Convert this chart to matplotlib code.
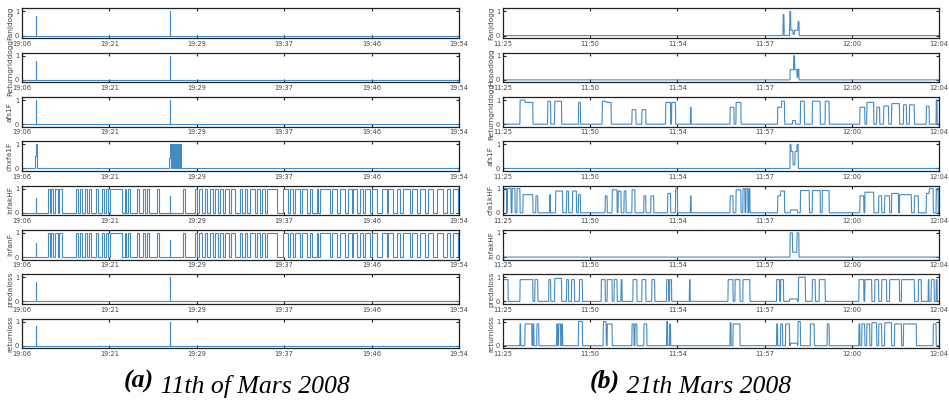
import matplotlib
matplotlib.use("Agg")
import matplotlib.pyplot as plt
import numpy as np

# ---------------- data ----------------
left_ticklabels = ['19:06', '19:21', '19:29', '19:37', '19:46', '19:54']
right_ticklabels = ['11:25', '11:50', '11:54', '11:57', '12:00', '12:04']
left_names = ['Fanjdogg', 'Returngriddogg', 'afs1F', 'chxfa1F',
              'infakHF', 'infanF', 'predaloss', 'returnloss']
right_names = ['Fanjdogg', 'Hopadogg', 'Returngriddogg', 'afs1F',
               'cfa1kHF', 'infakHF', 'predaloss', 'returnloss']
left_len = 437
right_len = 440

# pulses: (start sample, end sample, level)
L_fanj = [(13.5, 14.0, 0.8), (147.8, 148.4, 1.0)]
L_retgrid = [(13.5, 14.0, 0.8), (147.8, 148.4, 1.0)]
L_afs = [(13.5, 14.0, 1.0), (147.8, 148.4, 1.0)]
L_chxfa = [(12.5, 13.5, 0.5), (13.5, 15.0, 1.0),
           (146.5, 148.0, 0.45), (148.0, 148.6, 1.0), (149.2, 149.8, 1.0),
           (150.3, 150.9, 1.0), (151.4, 152.0, 1.0), (152.5, 153.1, 1.0),
           (153.6, 154.2, 1.0), (154.7, 155.3, 1.0), (155.8, 156.4, 1.0),
           (156.9, 157.5, 1.0), (158.0, 158.6, 1.0)]
L_infak = [(13.5, 14.1, 0.6), (26, 28, 1), (29, 31, 1), (33, 35.5, 1), (36.5, 40, 1),
           (54, 56, 1), (58, 60, 1), (63, 65, 1), (67, 69, 1), (74, 76, 1),
           (80, 82, 1), (84, 85.5, 1), (88, 100, 1), (103, 104, 1), (106, 108, 1),
           (115, 116.5, 1), (121, 123, 1), (125, 126.5, 1), (135, 136.5, 1),
           (147.8, 148.4, 0.7), (161, 163, 1), (173, 175, 1), (177, 180, 1),
           (183, 185, 1), (188, 191, 1), (193, 196, 1), (198, 201, 1),
           (203, 207, 1), (209, 213, 1), (218, 220, 1), (223, 225, 1),
           (228, 233, 1), (235, 238, 1), (240, 243, 1), (245, 255, 1),
           (261, 266, 1), (268, 271, 1), (273, 278, 1), (280, 285, 1),
           (288, 290, 1), (295, 296, 1), (298, 308, 1), (310, 315, 1),
           (318, 323, 1), (326, 330, 1), (331, 335, 1), (338, 341, 1),
           (343, 348, 1), (350, 355, 1), (360, 365, 1), (366, 371, 1),
           (375, 378, 1), (381, 388, 1), (390, 395, 1), (398, 403, 1),
           (406, 411, 1), (415, 421, 1), (425, 428, 1), (431, 436, 1)]
L_infan = list(L_infak)
L_preda = [(13.5, 14.0, 0.8), (147.8, 148.4, 1.0)]
L_retloss = [(13.5, 14.0, 0.8), (147.8, 148.4, 1.0)]

R_fanj = [(282.5, 283.5, 0.87), (289.2, 290.2, 1.0), (290.2, 292.5, 0.22),
          (292.5, 294.0, 0.05), (294.0, 297.5, 0.22), (297.5, 298.7, 0.58)]
R_hopa = [(289.5, 293.2, 0.42), (293.2, 294.2, 1.0), (294.2, 296.5, 0.42),
          (296.5, 297.3, 0.1), (297.3, 298.5, 0.45)]
R_retgrid = [(17, 22, 1.0), (22, 30, 0.9), (45, 48, 0.95), (52, 59, 0.95),
             (76, 78, 0.9), (100, 104, 0.95), (104, 109, 0.9), (130, 134, 0.6),
             (140, 144, 0.6), (164, 169, 0.9), (170, 174, 0.9), (189, 189.7, 0.7),
             (229, 233, 0.7), (235, 240, 0.9), (277, 281, 0.7), (281, 284, 0.95),
             (292, 295, 0.15), (300, 304, 0.95), (312, 320, 0.95), (325, 329, 0.95),
             (360, 365, 0.7), (367, 374, 0.9), (377, 380, 0.7), (384, 389, 0.75),
             (392, 400, 0.85), (404, 407, 0.8), (410, 415, 0.8), (427, 430, 0.75),
             (437, 438, 1.0)]
R_afs = [(289.5, 290.5, 1.0), (290.5, 292.5, 0.7), (292.5, 294.5, 0.15),
         (294.5, 296.5, 0.7), (296.5, 297.8, 1.0)]
R_cfa = [(0.5, 3.5, 1.0), (4.2, 8, 1.0), (9, 12, 1.0), (14, 17, 1.0), (20, 30, 0.75),
         (33, 35, 0.7), (47, 47.7, 0.75), (53, 60, 0.9), (64, 66, 0.9), (70, 74, 0.9),
         (76, 78, 0.75), (103, 105, 0.7), (110, 115, 0.95), (116, 119, 0.9),
         (122, 124, 0.9), (130, 133, 0.95), (142, 144, 0.7), (149, 152, 0.7),
         (166, 169, 0.8), (174, 176, 1.0), (189, 189.7, 0.7), (229, 232, 0.7),
         (235, 240, 0.95), (242, 244, 1.0), (245, 247, 1.0), (248, 249, 1.0),
         (277, 280, 0.7), (280, 284, 0.9), (290, 297, 0.12), (300, 309, 0.92),
         (312, 320, 0.92), (322, 329, 0.92), (360, 364, 0.7), (365, 374, 0.85),
         (379, 382, 0.7), (385, 390, 0.7), (392, 399, 0.8), (400, 412, 0.75),
         (415, 419, 0.7), (427, 430, 0.8), (430, 434, 1.0), (437, 439, 1.0)]
R_infak = [(289.5, 292, 1.0), (292, 296.5, 0.2), (296.5, 298.5, 1.0)]
R_preda = [(0, 5, 0.9), (17, 30, 0.9), (32, 35, 0.9), (46, 48, 0.9), (52, 59, 0.95),
           (64, 66, 0.9), (69, 72, 0.9), (77, 80, 0.9), (99, 103, 0.9), (105, 110, 0.9),
           (112, 115, 0.9), (119, 120, 0.9), (131, 135, 0.9), (140, 144, 0.9),
           (150, 153, 0.9), (165, 167, 0.9), (168, 170, 0.9), (188, 188.7, 0.9),
           (227, 232, 0.9), (234, 239, 0.9), (242, 249, 0.9), (276, 279, 0.9),
           (280, 283, 0.9), (289, 297, 0.1), (298, 305, 1.0), (312, 315, 0.9),
           (319, 325, 0.9), (359, 364, 0.9), (365, 372, 0.9), (375, 379, 0.9),
           (382, 387, 0.9), (390, 400, 0.9), (402, 415, 0.9), (419, 422, 0.9),
           (429, 429.7, 0.9), (432, 435, 0.9), (437, 438, 0.9)]
R_retloss = [(17, 17.7, 0.9), (22, 29, 0.9), (30, 31, 0.9), (34, 36, 0.9),
             (54, 55, 0.9), (56, 58, 0.9), (59, 60, 0.9), (76, 80, 1.0),
             (101, 104, 1.0), (105, 110, 0.9), (130, 132, 0.9), (133, 135, 0.9),
             (142, 145, 0.9), (165, 166, 1.0), (168, 169, 0.9), (229, 230, 0.95),
             (232, 239, 0.9), (276, 277, 0.9), (280, 282, 0.9), (285, 289, 0.9),
             (290, 297, 0.1), (297.5, 300, 1.0), (310, 314, 0.9), (327, 329, 0.9),
             (359, 360, 0.9), (362, 365, 0.9), (367, 370, 0.9), (372, 377, 0.95),
             (379, 382, 0.9), (385, 392, 0.95), (395, 402, 0.9), (404, 417, 0.9),
             (434, 437, 0.9)]

left_series = [L_fanj, L_retgrid, L_afs, L_chxfa, L_infak, L_infan, L_preda, L_retloss]
right_series = [R_fanj, R_hopa, R_retgrid, R_afs, R_cfa, R_infak, R_preda, R_retloss]


def build(pulses, xmax, s):
    xs, ys = [0.0], [0.0]
    n = len(pulses)
    for i, (a, b, h) in enumerate(pulses):
        adj_prev = i > 0 and abs(a - pulses[i - 1][1]) < 1e-6
        if not adj_prev:
            xs.append(a); ys.append(0.0)
        xs.append(a + s); ys.append(h)
        xs.append(b); ys.append(h)
        adj_next = i < n - 1 and abs(pulses[i + 1][0] - b) < 1e-6
        if not adj_next:
            xs.append(b + s); ys.append(0.0)
    xs.append(xmax); ys.append(0.0)
    return np.array(xs), np.array(ys)


# ---------------- figure ----------------
W, H = 949, 415
fig = plt.figure(figsize=(W / 100, H / 100), dpi=100)
plt.rcParams['font.family'] = ['DejaVu Sans']

line_color = '#2f7fbf'
row_top0 = 8.5
row_step = 44.3
row_h = 29.5


def style(ax, xmax, labels, name):
    ax.set_xlim(0, xmax)
    ax.set_ylim(-0.1, 1.12)
    ax.set_xticks(np.linspace(0, xmax, 6))
    ax.set_xticklabels(labels)
    ax.set_yticks([0, 1])
    ax.set_yticklabels(['0', '1'])
    ax.tick_params(direction='in', length=2.5, width=0.8, top=True, right=True,
                   labelsize=4.8, pad=2.0, colors='#222222', labelcolor='#444444')
    for sp in ax.spines.values():
        sp.set_linewidth(0.9)
        sp.set_color('#222222')
    ax.set_ylabel(name, fontsize=5.3, labelpad=1.5, color='#444444')


for col, (x0, xw, series, names, labels, xmax, s) in enumerate([
        (22, 437, left_series, left_names, left_ticklabels, left_len, 0.0),
        (503, 436, right_series, right_names, right_ticklabels, right_len, 0.3)]):
    for i in range(8):
        top = row_top0 + row_step * i
        ax = fig.add_axes([x0 / W, 1 - (top + row_h) / H, xw / W, row_h / H])
        xs, ys = build(series[i], xmax, s)
        ax.plot(xs, ys, color=line_color, lw=0.8, alpha=0.9, solid_joinstyle='miter')
        style(ax, xmax, labels, names[i])

cap_y = 1 - 388 / H
cap_fs = 18.5
for x_start, tag, rest in [(124, '(a)', ' 11th of Mars 2008'),
                           (590, '(b)', ' 21th Mars 2008')]:
    t1 = fig.text(x_start / W, cap_y, tag, fontsize=cap_fs, fontweight='bold',
                  fontstyle='italic', family='Liberation Serif', va='baseline',
                  ha='left')
    fig.add_artist(plt.Annotation(rest, xy=(1, 0), xycoords=t1, va='baseline',
                                  ha='left', fontsize=cap_fs, fontstyle='italic',
                                  family='Liberation Serif'))

fig.savefig('out.png', dpi=100)
